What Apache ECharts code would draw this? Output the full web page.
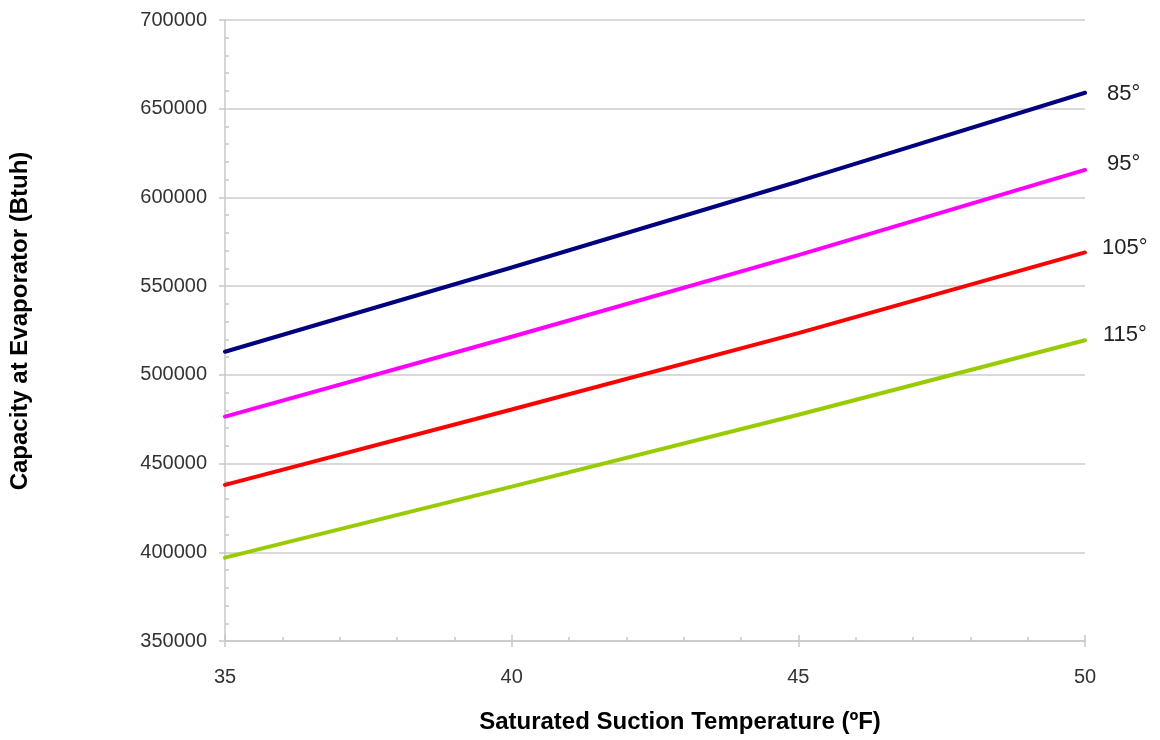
<!DOCTYPE html>
<html>
<head>
<meta charset="utf-8">
<script src="https://cdn.jsdelivr.net/npm/echarts@6/dist/echarts.min.js"></script>
<style>
html,body{margin:0;padding:0;background:#fff;}
#chart{width:1160px;height:740px;}
</style>
</head>
<body>
<div id="chart"></div>
<script>
// Data
const temps = [35, 40, 45, 50];
const seriesNames = ['85°', '95°', '105°', '115°'];
const cap85  = [513000, 560500, 609000, 659000];
const cap95  = [476500, 521500, 567500, 615500];
const cap105 = [438000, 480500, 523500, 569000];
const cap115 = [397000, 437000, 477500, 519500];
const colors = ['#000080', '#ff00ff', '#ff0000', '#99cc00'];
const xTitle = 'Saturated Suction Temperature (ºF)';
const yTitle = 'Capacity at Evaporator (Btuh)';

const allData = [cap85, cap95, cap105, cap115];
const labelOffsets = [[6, 1], [6, -6], [1, -4], [2, -5]];
const FONT = '"Liberation Sans", Arial, sans-serif';

const chart = echarts.init(document.getElementById('chart'), null, {renderer: 'canvas'});

const series = allData.map((vals, i) => ({
  name: seriesNames[i],
  type: 'line',
  xAxisIndex: 0,
  yAxisIndex: 0,
  data: temps.map((t, j) => [t, vals[j]]),
  showSymbol: false,
  symbol: 'none',
  lineStyle: {color: colors[i], width: 4, cap: 'round'},
  itemStyle: {color: colors[i]},
  z: 5,
  endLabel: {
    show: true,
    formatter: seriesNames[i],
    color: '#222',
    fontSize: 22,
    fontFamily: FONT,
    distance: 16,
    offset: labelOffsets[i]
  },
  animation: false
}));

const axisLineStyle = {color: '#c8c8c8', width: 1.5};

chart.setOption({
  animation: false,
  grid: {left: 225, right: 75, top: 20, bottom: 99, containLabel: false},
  xAxis: [
    {
      type: 'value', min: 35, max: 50, interval: 5,
      axisLine: {show: true, onZero: false, lineStyle: axisLineStyle},
      axisTick: {show: true, length: 6, lineStyle: axisLineStyle},
      axisLabel: {color: '#333', fontSize: 20, fontFamily: FONT, margin: 26},
      splitLine: {show: false}
    },
    {
      type: 'value', min: 35, max: 50, interval: 5, position: 'bottom',
      axisLine: {show: false, onZero: false},
      axisTick: {show: true, inside: true, length: 6, lineStyle: axisLineStyle},
      minorTick: {show: true, splitNumber: 5, length: 4, lineStyle: axisLineStyle},
      axisLabel: {show: false},
      splitLine: {show: false}
    }
  ],
  yAxis: [
    {
      type: 'value', min: 350000, max: 700000, interval: 50000,
      axisLine: {show: true, onZero: false, lineStyle: axisLineStyle},
      axisTick: {show: true, length: 6, lineStyle: axisLineStyle},
      axisLabel: {color: '#333', fontSize: 20, fontFamily: FONT, margin: 18,
                  formatter: v => String(v)},
      splitLine: {show: true, lineStyle: {color: '#d9d9d9', width: 2}}
    },
    {
      type: 'value', min: 350000, max: 700000, interval: 50000, position: 'left',
      axisLine: {show: false, onZero: false},
      axisTick: {show: false, inside: true},
      minorTick: {show: true, splitNumber: 5, length: 4, lineStyle: axisLineStyle},
      axisLabel: {show: false},
      splitLine: {show: false}
    }
  ],
  graphic: [
    {
      type: 'text', x: 680, y: 722,
      style: {text: xTitle, fontSize: 24, fontWeight: 'bold', fontFamily: FONT, fill: '#000',
              textAlign: 'center', textVerticalAlign: 'middle'}
    },
    {
      type: 'text', rotation: Math.PI / 2,
      x: 20, y: 321,
      style: {text: yTitle, fontSize: 24, fontWeight: 'bold', fontFamily: FONT, fill: '#000',
              textAlign: 'center', textVerticalAlign: 'middle'}
    }
  ],
  series: series
});
</script>
</body>
</html>
